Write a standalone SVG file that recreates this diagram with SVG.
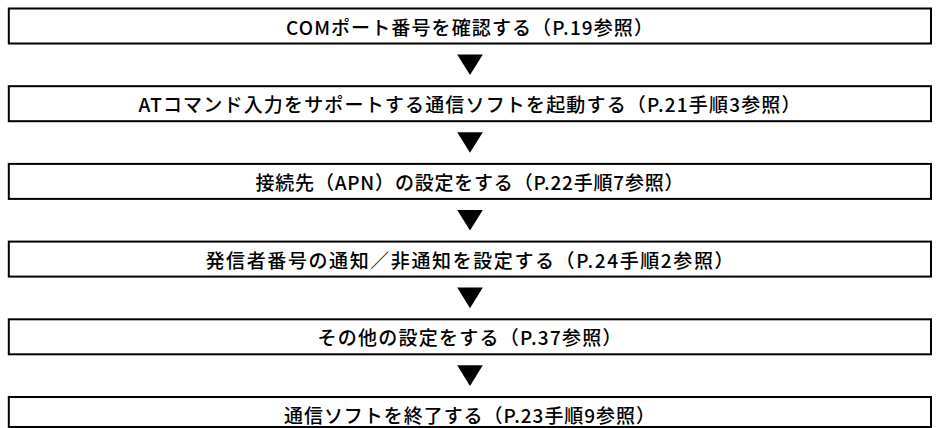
<svg xmlns="http://www.w3.org/2000/svg" width="940" height="428" viewBox="0 0 940 428">
<style>
.box{fill:#fff;stroke:#000;stroke-width:2}
.lbl{font-family:"Noto Sans CJK JP","Noto Sans",sans-serif;font-size:19px;font-weight:500;fill:#000;text-anchor:middle;dominant-baseline:central}
.arr{fill:#000}
</style>
<rect width="940" height="428" fill="#fff"/>
<g id="connectors">
<polygon class="arr" points="457.2,54.5 482.8,54.5 470,75.1"/>
<polygon class="arr" points="457.2,132.2 482.8,132.2 470,152.8"/>
<polygon class="arr" points="457.2,209.9 482.8,209.9 470,230.5"/>
<polygon class="arr" points="457.2,287.6 482.8,287.6 470,308.2"/>
<polygon class="arr" points="457.2,365.3 482.8,365.3 470,385.9"/>
</g>
<g id="n1"><rect class="box" x="8.8" y="8.5" width="922.2" height="35"/><text class="lbl" x="469.5" y="26" textLength="367" lengthAdjust="spacing">COMポート番号を確認する（P.19参照）</text></g>
<g id="n2"><rect class="box" x="8.8" y="86.2" width="922.2" height="35"/><text class="lbl" x="469.5" y="103.7" textLength="662" lengthAdjust="spacing">ATコマンド入力をサポートする通信ソフトを起動する（P.21手順3参照）</text></g>
<g id="n3"><rect class="box" x="8.8" y="163.9" width="922.2" height="35"/><text class="lbl" x="469.5" y="181.4" textLength="428" lengthAdjust="spacing">接続先（APN）の設定をする（P.22手順7参照）</text></g>
<g id="n4"><rect class="box" x="8.8" y="241.6" width="922.2" height="35"/><text class="lbl" x="469.5" y="259.1" textLength="528" lengthAdjust="spacing">発信者番号の通知／非通知を設定する（P.24手順2参照）</text></g>
<g id="n5"><rect class="box" x="8.8" y="319.3" width="922.2" height="35"/><text class="lbl" x="469.5" y="336.8" textLength="304" lengthAdjust="spacing">その他の設定をする（P.37参照）</text></g>
<g id="n6"><rect class="box" x="8.8" y="397" width="922.2" height="30"/><text class="lbl" x="469.5" y="414.3" textLength="371" lengthAdjust="spacing">通信ソフトを終了する（P.23手順9参照）</text></g>
</svg>
